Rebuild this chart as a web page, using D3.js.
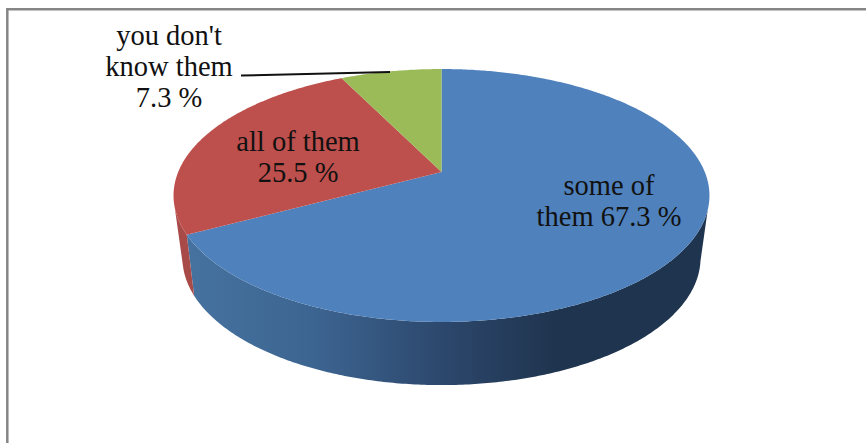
<!DOCTYPE html>
<html>
<head>
<meta charset="utf-8">
<script src="https://cdn.jsdelivr.net/npm/d3@7/dist/d3.min.js"></script>
<style>
    html, body { margin: 0; padding: 0; background: #fff; overflow: hidden; }
    text { font-family: "Liberation Serif", serif; fill: #111; font-size: 28.5px; text-anchor: middle; }
</style>
</head>
<body>
<div id="chart"></div>
<script>
const categories = ["some of them", "all of them", "you don't know them"];
const shares = [67.3, 25.5, 7.3];
const labelLines = [
    ["some of", "them 67.3 %"],
    ["all of them", "25.5 %"],
    ["you don't", "know them", "7.3 %"]
];
const colors = ["#4f81bd", "#bd4f4c", "#9bbb59"];

const width = 866, height = 443;

// the 3d tilt: each rim is a circle seen in perspective, so the apex is not the ellipse centre
const topRim = { cx: 441.5, cy: 172, rx: 263.3, ry: 122.1, k: 0.1857 };
const lowRim = { cx: 441.5, cy: 232.6, rx: 253.8, ry: 122, k: 0.2 };

function rimPoint(rim, a) {
    const u = Math.sin(a), v = -Math.cos(a);
    const w = 1 - rim.k * v;
    return [rim.cx + rim.rx * u / w, rim.cy + rim.ry * v / w];
}

function rimArc(rim, a0, a1) {
    const n = Math.ceil(Math.abs(a1 - a0) / 0.01);
    return d3.range(n + 1).map(i => rimPoint(rim, a0 + (a1 - a0) * i / n));
}

const svg = d3.select("#chart").append("svg")
    .attr("width", width)
    .attr("height", height);

svg.append("rect").attr("width", width).attr("height", height).attr("fill", "#fff");

// frame, open on the right and at the bottom
svg.append("path")
    .attr("d", "M7.3,443V9.3H866")
    .attr("fill", "none")
    .attr("stroke", "#868686")
    .attr("stroke-width", 2.5);

const defs = svg.append("defs");
const sideShade = defs.append("linearGradient")
    .attr("id", "blue-side")
    .attr("gradientUnits", "userSpaceOnUse")
    .attr("x1", 190).attr("x2", 700).attr("y1", 0).attr("y2", 0);
[[0, "#46729f"], [0.25, "#3c6490"], [0.5, "#2c476c"], [0.72, "#1f344e"], [1, "#1f344e"]].forEach(d => {
    sideShade.append("stop").attr("offset", d[0]).attr("stop-color", d[1]);
});

const pie = d3.pie().sort(null);
const slices = pie(shares);
const line = d3.line();
const deg = Math.PI / 180;

// side walls first, the top faces cover whatever is left over
function wall(fill, a0, a1, low0, low1) {
    svg.append("path")
        .attr("d", line(rimArc(topRim, a0, a1).concat(rimArc(lowRim, low1, low0))) + "Z")
        .attr("fill", fill);
}
wall("url(#blue-side)", 107 * deg, slices[0].endAngle, 103 * deg, slices[0].endAngle);
wall("#a84a48", slices[1].startAngle, 254 * deg, slices[1].startAngle, 254 * deg);

// top faces
svg.selectAll("path.slice")
    .data(slices)
    .join("path")
    .attr("class", "slice")
    .attr("fill", (d, i) => colors[i])
    .attr("d", d => line([[topRim.cx, topRim.cy]].concat(rimArc(topRim, d.startAngle, d.endAngle))) + "Z");

// leader of the small slice
svg.append("path")
    .attr("d", "M241,75.5L390,72")
    .attr("fill", "none")
    .attr("stroke", "#111")
    .attr("stroke-width", 2);

const labelBase = [[609, 194.5], [298, 151], [169, 44.5]];
const lineGap = [31, 31, 31];
labelLines.forEach((rows, i) => {
    rows.forEach((row, j) => {
        svg.append("text")
            .attr("x", labelBase[i][0])
            .attr("y", labelBase[i][1] + j * lineGap[i])
            .text(row);
    });
});
</script>
</body>
</html>
